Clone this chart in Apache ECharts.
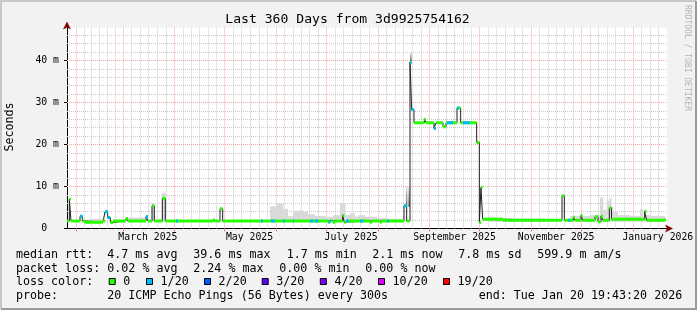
<!DOCTYPE html>
<html><head><meta charset="utf-8">
<script src="https://cdn.jsdelivr.net/npm/echarts@6/dist/echarts.min.js"></script>
<style>html,body{margin:0;padding:0;background:#f2f2f2;}#c{width:697px;height:310px;}</style>
</head><body><div id="c"></div>
<script>
// ---------- data (x = days since 2025-01-26 12:00 UTC, y = milliseconds) ----------
const windowStart = Date.UTC(2025, 0, 26, 12);
const windowDays = 360;
const monthStarts = ['2025-02-01','2025-03-01','2025-04-01','2025-05-01','2025-06-01','2025-07-01','2025-08-01','2025-09-01','2025-10-01','2025-11-01','2025-12-01','2026-01-01','2026-02-01'];
const labelMonths = ['2025-03-01','2025-05-01','2025-07-01','2025-09-01','2025-11-01','2026-01-01'];
const labelTexts = ['March 2025','May 2025','July 2025','September 2025','November 2025','January 2026'];
const yLabelValues = [0, 10, 20, 30, 40];
const yLabelTexts = ['0  ', '10 m', '20 m', '30 m', '40 m'];
const yMax = 47.85;

const medianDays = [0,1.4,2.4,7.8,9.2,10.8,21.6,22.8,24.4,26.0,27.6,35.4,36.6,47.4,48.6,51.0,52.4,57.2,59.0,87.6,88.8,91.8,93.4,156.6,157.8,159.6,160.8,165.4,166.4,167.4,181.8,183.0,187.8,188.8,202.2,203.8,205.8,206.8,208.2,214.4,215.4,220.2,221.4,225.6,227.4,234.0,236.2,245.8,247.4,248.4,249.4,261.6,297.0,298.4,303.8,304.8,308.4,309.4,316.8,318.6,320.4,321.6,325.4,326.7,346.6,347.8,358.8,359.4];
const medianMs = [1.8,7.0,1.8,2.9,1.8,1.5,1.8,4.0,2.6,1.4,1.8,2.4,1.8,2.8,1.8,5.4,1.8,7.2,1.8,2.0,1.8,4.7,1.8,1.5,1.8,1.5,1.8,3.1,1.5,1.8,1.5,1.8,1.5,1.8,5.4,1.8,39.6,28.3,25.2,26.0,25.2,23.8,25.2,24.2,25.2,28.7,25.2,20.5,1.4,9.8,2.2,1.95,7.8,1.95,2.7,1.95,3.1,1.95,2.8,1.6,2.9,1.95,4.9,2.2,4.1,1.95,2.1,2.1];

const lossStartDays = [7.8,22.8,47.4,65.4,116.4,122.4,129.6,135.6,145.8,148.8,157.2,167.4,175.8,192.2,202.2,205.8,220.2,228.0,234.0,237.6,300.6];
const lossEndDays   = [9.2,25.8,48.6,66.6,117.6,124.8,130.8,136.2,147.8,150.8,158.6,169.2,177.8,193.4,203.8,208.2,221.4,231.6,235.2,241.8,301.8];

const smokeLowMs = 1.6;
const smokeDays = [0,13.2,21.6,36.0,46.8,51.0,52.4,57.2,59.0,121.8,125.8,129.8,132.6,135.6,138.6,141.6,144.6,148.8,154.8,159.6,163.8,167.1,169.8,172.8,174.6,178.8,186.0,192.0,201.6,252.6,261.6,286.8,301.8,313.8,319.8,321.8,323.8,325.4,326.7,327.8,330.6,337.8,343.8,345.8,349.8,358.8,359.4];
const smokeHighMs = [1.6,2.3,1.6,2.6,1.6,6.1,1.6,8.5,1.6,5.3,5.9,4.7,2.9,4.2,4.3,4.0,3.4,3.0,2.8,3.2,6.0,3.2,3.6,2.8,3.2,2.8,2.5,2.3,1.6,2.6,2.4,1.6,3.0,3.2,7.4,4.4,6.6,7.2,5.1,4.0,3.2,3.0,4.6,3.2,3.0,1.6,1.6];

const darkSmokeStart = [203.4, 204.8, 205.8];
const darkSmokeEnd = [204.2, 205.8, 206.8];
const darkSmokeLowMs = [5.2, 5.2, 39.8];
const darkSmokeHighMs = [10.0, 10.0, 41.8];

const lossLegendColors = ['#26ff00','#00b8ff','#0059ff','#5e00ff','#7e00ff','#dd00ff','#ff0000'];
const lossLegendTexts = ['0','1/20','2/20','3/20','4/20','10/20','19/20'];

// ---------- helpers ----------
function dayOf(s){const p=s.split('-').map(Number);return (Date.UTC(p[0],p[1]-1,p[2])-windowStart)/864e5;}
const monthDays = monthStarts.map(dayOf);
const labelDays = labelMonths.map(s => dayOf(s) + 15);
const majorX = monthDays.filter(d => d > 0 && d < windowDays);
const minorX = [];
for (let i = 0; i < monthDays.length - 1; i++) {
  for (let k = 1; k < 6; k++) {
    const d = monthDays[i] + (monthDays[i+1] - monthDays[i]) * k / 6;
    if (d > 0 && d < windowDays) minorX.push(d);
  }
}
const minorY = [], majorY = [];
for (let v = 2; v < yMax; v += 2) { if (v % 10 === 0) majorY.push(v); else minorY.push(v); }

const medianPts = medianDays.map((d,i) => [d, medianMs[i]]);
const bandPts = [];
for (let i = 0; i < medianDays.length - 1; i++) {
  bandPts.push([medianDays[i], medianMs[i]], [medianDays[i+1], medianMs[i]], [medianDays[i+1], '-']);
}
const lossPts = [];
for (let j = 0; j < lossStartDays.length; j++) {
  for (let i = 0; i < medianDays.length - 1; i++) {
    const a = Math.max(lossStartDays[j], medianDays[i]);
    const b = Math.min(lossEndDays[j], medianDays[i+1]);
    if (b > a) lossPts.push([a, medianMs[i]], [b, medianMs[i]], [b, '-']);
  }
}
const smokeSegs = [];
for (let i = 0; i < smokeDays.length - 1; i++) {
  if (smokeHighMs[i] > smokeLowMs) smokeSegs.push([smokeDays[i], smokeDays[i+1], smokeLowMs, smokeHighMs[i]]);
}
const darkSegs = darkSmokeStart.map((d,i) => [d, darkSmokeEnd[i], darkSmokeLowMs[i], darkSmokeHighMs[i]]);

function rectRenderer(fillFn) {
  return function (params, api) {
    const p0 = api.coord([api.value(0), api.value(3)]);
    const p1 = api.coord([api.value(1), api.value(2)]);
    return {type:'rect', shape:{x:p0[0], y:p0[1], width:p1[0]-p0[0], height:p1[1]-p0[1]}, style:{fill:fillFn()}};
  };
}

const gridMinor = {color:'#c9c9c9', width:1, type:[1,1]};
const gridMajor = {color:'#f5a3a3', width:1, type:[1,1]};
const markData = [].concat(
  minorX.map(d => ({xAxis:d, lineStyle:gridMinor})),
  minorY.map(v => ({yAxis:v, lineStyle:gridMinor})),
  majorX.map(d => ({xAxis:d, lineStyle:gridMajor})),
  majorY.map(v => ({yAxis:v, lineStyle:gridMajor}))
);

const MONO = '"DejaVu Sans Mono", monospace';
function txt(text, x, y, size, align) {
  align = align || 'left';
  return {type:'text', silent:true, style:{text, x, y, font: size + 'px ' + MONO, fill:'#000',
    textAlign:align, textVerticalAlign:'middle', align:align, verticalAlign:'middle'}};
}
const graphics = [];
graphics.push({type:'polyline', silent:true, shape:{points:[[1,309],[1,1],[696,1]]}, style:{stroke:'#c8c8c8', lineWidth:2, fill:null}});
graphics.push({type:'polyline', silent:true, shape:{points:[[1,309],[696,309],[696,1]]}, style:{stroke:'#9a9a9a', lineWidth:2, fill:null}});
graphics.push(txt('Last 360 Days from 3d9925754162', 347.5, 20, 13.1, 'center'));
graphics.push({type:'text', silent:true, x:10, y:127, rotation:Math.PI/2, style:{text:'Seconds', x:0, y:0, font:'11.67px '+MONO, fill:'#000', textAlign:'center', align:'center', textVerticalAlign:'middle', verticalAlign:'middle'}});
graphics.push({type:'text', silent:true, x:687, y:58, rotation:-Math.PI/2, style:{text:'RRDTOOL / TOBI OETIKER', x:0, y:0, font:'8px '+MONO, fill:'#b4b4b4', textAlign:'center', align:'center', textVerticalAlign:'middle', verticalAlign:'middle'}});
const L = 11.67;
const rows = [
  [254.5, [['median rtt:',16],['4.7 ms avg',107.3],['39.6 ms max',193.3],['1.7 ms min',286.7],['2.1 ms now',372.3],['7.8 ms sd',458.3],['599.9 m am/s',537.3]]],
  [268.5, [['packet loss:',16],['0.02 % avg',107.3],['2.24 % max',193.3],['0.00 % min',279.3],['0.00 % now',365.3]]],
  [282, [['loss color:',16]]],
  [296, [['probe:',16],['20 ICMP Echo Pings (56 Bytes) every 300s',107.3],['end: Tue Jan 20 19:43:20 2026',478.7]]]
];
rows.forEach(r => r[1].forEach(t => graphics.push(txt(t[0], t[1], r[0], L))));
const boxX = [108.7,146,204,261.7,319.8,378,443];
lossLegendColors.forEach((c,i) => {
  graphics.push({type:'rect', silent:true, shape:{x:boxX[i]+0.5, y:278.5, width:6, height:6}, style:{fill:c, stroke:'#000', lineWidth:1}});
  graphics.push(txt(lossLegendTexts[i], boxX[i] + 14.6, 282, L));
});

const chart = echarts.init(document.getElementById('c'), null, {renderer:'canvas', width:697, height:310});
chart.setOption({
  animation:false,
  backgroundColor:'#f2f2f2',
  grid:{left:67, right:30, top:27.5, bottom:81.5, show:true, backgroundColor:'#ffffff', borderWidth:0},
  xAxis:[{
    type:'value', min:0, max:windowDays, position:'bottom',
    axisLine:{show:true, onZero:false, lineStyle:{color:'#000', width:1}},
    axisTick:{show:true, customValues:majorX, length:3, inside:false, lineStyle:{color:'#f08080'}},
    axisLabel:{show:true, customValues:labelDays, margin:4, color:'#000', fontFamily:'DejaVu Sans Mono', fontSize:9.8,
      formatter:v => { const i = labelDays.findIndex(d => Math.abs(d - v) < 1e-6); return i >= 0 ? labelTexts[i] : ''; }},
    splitLine:{show:false}
  },{
    type:'value', min:0, max:windowDays, position:'bottom',
    axisLine:{show:true, onZero:false, symbol:['none','arrow'], symbolSize:[6,8], symbolOffset:[0,6], lineStyle:{color:'#800000', width:0}},
    axisTick:{show:false}, axisLabel:{show:false}, splitLine:{show:false}
  }],
  yAxis:[{
    type:'value', min:0, max:yMax, position:'left',
    axisLine:{show:true, onZero:false, lineStyle:{color:'#000', width:1}},
    axisTick:{show:true, customValues:yLabelValues, length:3, lineStyle:{color:'#000'}},
    axisLabel:{show:true, customValues:yLabelValues, margin:8, color:'#000', fontFamily:'DejaVu Sans Mono', fontSize:9.8,
      formatter:v => { const i = yLabelValues.indexOf(v); return i >= 0 ? yLabelTexts[i] : ''; }},
    splitLine:{show:false}
  },{
    type:'value', min:0, max:yMax, position:'left',
    axisLine:{show:true, onZero:false, symbol:['none','arrow'], symbolSize:[6,8], symbolOffset:[0,6], lineStyle:{color:'#800000', width:0}},
    axisTick:{show:false}, axisLabel:{show:false}, splitLine:{show:false}
  }],
  graphic: graphics,
  series:[
    {type:'line', name:'grid', data:[], symbol:'none', z:1, silent:true,
      markLine:{silent:true, symbol:['none','none'], label:{show:false}, z:1, animation:false, data:markData}},
    {type:'custom', name:'smoke', data:smokeSegs, z:3, silent:true, encode:{x:[0,1], y:[2,3]}, renderItem:rectRenderer(() => '#d9d9d9')},
    {type:'custom', name:'darkSmoke', data:darkSegs, z:4, silent:true, encode:{x:[0,1], y:[2,3]},
      renderItem:rectRenderer(() => new echarts.graphic.LinearGradient(0,0,0,1,[{offset:0,color:'#e0e0e0'},{offset:1,color:'#606060'}]))},
    {type:'line', name:'median', data:medianPts, step:'end', symbol:'none', z:5, silent:true,
      lineStyle:{color:'#202020', width:1}},
    {type:'line', name:'band', data:bandPts, symbol:'none', z:6, silent:true, connectNulls:false,
      lineStyle:{color:'#26ff00', width:3, cap:'butt'}},
    {type:'line', name:'loss', data:lossPts, symbol:'none', z:7, silent:true, connectNulls:false,
      lineStyle:{color:'#00b8ff', width:3, cap:'butt'}}
  ]
});
</script></body></html>
